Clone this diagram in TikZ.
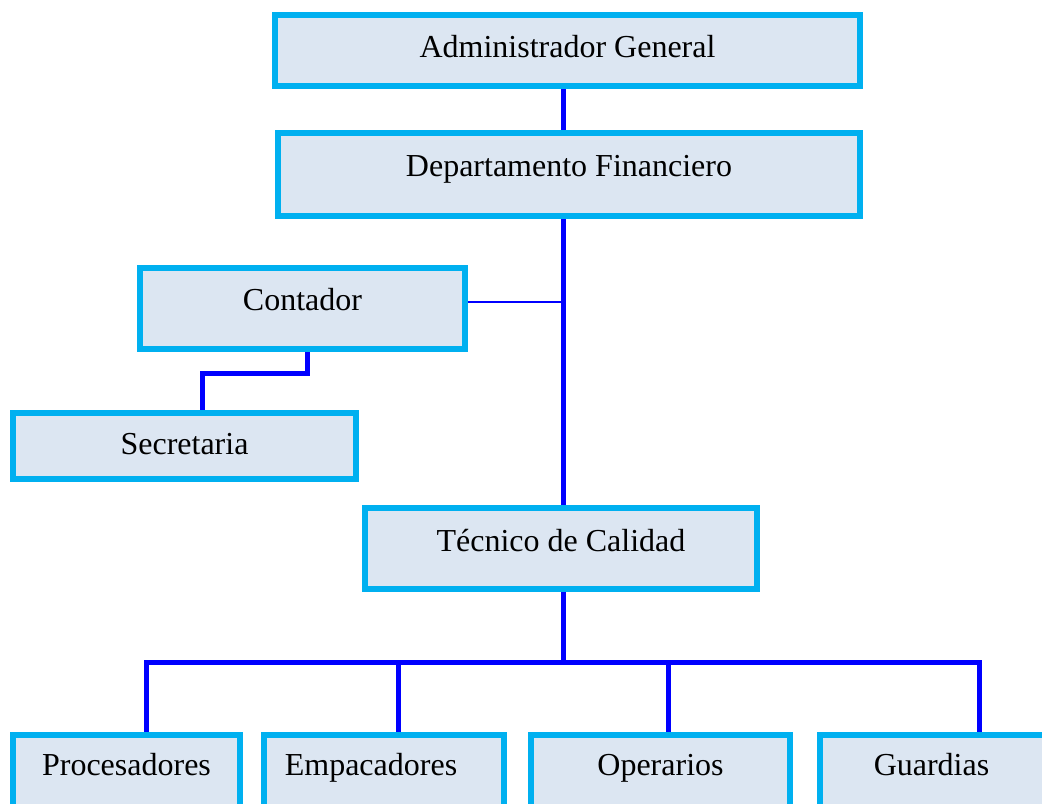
\documentclass[tikz,border=0pt]{standalone}
\usepackage{fontspec}
\setmainfont{Liberation Serif}
\usetikzlibrary{backgrounds}
\definecolor{boxline}{RGB}{0,176,240}
\definecolor{boxfill}{RGB}{220,230,242}
\definecolor{conn}{RGB}{0,0,255}
\begin{document}
\begin{tikzpicture}[x=0.75pt,y=-0.75pt,
  orgbox/.style={draw=boxline,fill=boxfill,line width=4.5pt,rectangle,
    inner sep=0pt,text depth=0pt,font=\fontsize{24}{28}\selectfont},
  link/.style={draw=conn,line width=3.75pt},
  thinlink/.style={draw=conn,line width=1.1pt}]
\useasboundingbox (0,0) rectangle (1042,803);
\clip (0,0) rectangle (1042,803);

\node[orgbox,minimum width=438.75pt,minimum height=53.25pt,text height=9.75pt] (admin) at (567.5,50.5) {Administrador General};
\node[orgbox,minimum width=436.5pt,minimum height=62.25pt,text height=2.25pt] (dept) at (569,174.5) {Departamento Financiero};
\node[orgbox,minimum width=243.75pt,minimum height=60.75pt,text height=2.25pt] (con) at (302.5,308.5) {Contador};
\node[orgbox,minimum width=257.25pt,minimum height=49.5pt,text height=12pt] (sec) at (184.5,446) {Secretaria};
\node[orgbox,minimum width=294pt,minimum height=60.75pt,text height=3.75pt] (tec) at (561,548.5) {Técnico de Calidad};
\node[orgbox,minimum width=170.25pt,minimum height=55.5pt,text height=4.5pt] (pro) at (126.5,772) {Procesadores};
\node[orgbox,minimum width=180pt,minimum height=55.5pt,text height=4.5pt] (emp) at (384,772) {\kern-19.5pt Empacadores};
\node[orgbox,minimum width=194.25pt,minimum height=55.5pt,text height=4.5pt] (ope) at (660.5,772) {Operarios};
\node[orgbox,minimum width=177pt,minimum height=55.5pt,text height=4.5pt] (gua) at (938,772) {\kern-9.75pt Guardias};

\coordinate (spine) at (563,0);
\coordinate (cj) at (563,302);
\coordinate (cs1) at (307,373);
\coordinate (cs2) at (202,373);
\coordinate (bus) at (563,662);
\coordinate (d1) at (146,662);
\coordinate (d2) at (398,662);
\coordinate (d3) at (668,662);
\coordinate (d4) at (979,662);

\begin{scope}[on background layer]
\draw[link] (admin.south -| spine) -- (dept.north -| spine);
\draw[link] (dept.south -| spine) -- (tec.north -| spine);
\draw[thinlink] (cj -| con.east) -- (cj);
\draw[link] (cs1 |- con.south) -- (cs1) -- (cs2) -- (cs2 |- sec.north);
\draw[link] (tec.south -| spine) -- (bus);
\draw[link] (d1 |- pro.north) -- (d1) -- (d4) -- (d4 |- gua.north);
\draw[link] (d2) -- (d2 |- emp.north);
\draw[link] (d3) -- (d3 |- ope.north);
\end{scope}
\end{tikzpicture}
\end{document}
